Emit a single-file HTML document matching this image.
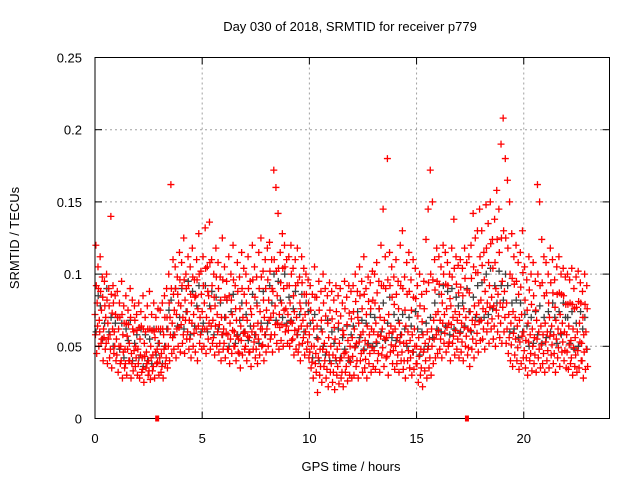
<!DOCTYPE html>
<html><head><meta charset="utf-8"><style>
html,body{margin:0;padding:0;background:#fff;}
svg{display:block;font-family:"Liberation Sans",sans-serif;}
</style></head><body>
<svg id="chart" width="640" height="480" viewBox="0 0 640 480">
<rect x="0" y="0" width="640" height="480" fill="#fff"/>
<text x="350" y="31" font-size="13" text-anchor="middle" fill="#000">Day 030 of 2018, SRMTID for receiver p779</text>
<text x="351" y="471" font-size="13" text-anchor="middle" fill="#000">GPS time / hours</text>
<text transform="translate(19,238) rotate(-90)" font-size="13" text-anchor="middle" fill="#000">SRMTID / TECUs</text>
<g id="grid"></g>
<g id="black"></g>
<g id="red"></g>
<g id="axes"></g>
</svg>
<script>
const xTicks=[0,5,10,15,20];
const yTicks=[0,0.05,0.1,0.15,0.2,0.25];
const yTickLabels=["0","0.05","0.1","0.15","0.2","0.25"];
const markerTimes=[2.9,17.35];
const redMid=[72,80,68,75,62,70,66,58,73,60,55,62,50,58,48,57,52,45,60,50,48,55,42,52,46,40,50,44,56,48,52,45,58,50,62,70,66,75,72,80,78,70,82,74,68,80,72,85,76,70,74,80,70,85,76,68,78,72,65,70,62,70,58,66,72,60,68,55,64,70,60,68,56,72,64,58,66,74,62,70,75,82,70,88,78,85,72,80,90,76,72,80,66,74,70,62,76,68,72,64,58,50,62,45,55,48,60,52,46,56,50,44,55,48,52,42,58,46,54,50,56,62,52,66,58,60,54,64,58,62,60,66,58,70,62,68,56,72,64,60,62,56,66,58,52,64,60,54,58,62,50,56,48,58,52,60,55,62,68,72,74,68,80,72,76,66,78,70,74,68,72,66,76,70,62,74,68,78,72,80,82,76,88,80,92,84,78,90,86,80,95,88,80,72,66,74,70,64,68,72,60,54,66,58,62,56,68,60,64,58,66,60,70,64,58,68,62,72,66,60,58,64,54,62,56,60,66,52,58,60];
const redHi=[120,105,112,98,95,100,90,140,92,85,88,80,95,78,85,75,90,82,78,72,80,74,85,70,78,88,72,80,70,76,75,80,85,90,100,162,110,105,98,115,108,125,100,112,105,118,96,110,128,102,112,132,105,136,110,100,118,108,98,125,105,95,112,100,120,92,108,98,115,104,100,112,95,120,105,98,115,125,102,110,118,122,110,172,160,142,115,128,120,110,112,120,104,110,118,98,112,104,100,96,92,86,105,84,95,88,100,90,85,94,88,82,92,85,90,80,95,84,92,88,92,100,88,105,95,112,90,98,94,102,100,108,95,120,145,112,180,115,105,98,110,95,120,130,98,108,115,96,110,104,92,100,86,95,124,145,172,150,110,118,112,105,120,115,108,100,118,138,112,106,110,104,118,108,112,120,142,125,130,145,130,115,148,135,150,124,138,158,145,190,208,180,165,150,128,112,120,108,115,130,105,96,112,100,108,95,162,150,124,112,108,100,118,110,96,105,112,100,104,98,100,96,104,90,98,102,94,88,100,92];
const redLo=[45,50,52,40,48,38,42,35,45,40,32,38,28,35,30,40,28,33,36,30,28,32,25,35,30,27,33,28,38,30,32,28,38,35,40,45,48,42,50,46,52,45,55,48,42,50,46,40,52,48,50,45,55,48,52,44,50,46,40,48,42,48,38,45,50,40,46,35,44,48,40,46,36,48,42,38,44,50,40,46,50,55,46,58,52,48,54,50,60,52,50,54,44,48,46,40,52,44,48,42,35,28,38,18,30,25,36,28,22,32,25,20,30,24,28,22,32,26,30,28,30,36,28,40,32,35,28,38,32,36,34,40,32,44,36,42,30,46,38,34,38,32,40,34,28,40,35,30,34,38,25,30,22,33,28,35,30,38,42,45,48,42,52,46,50,40,52,44,48,42,46,40,50,44,36,48,42,52,46,54,55,48,60,52,62,55,50,60,56,52,60,52,45,40,36,44,40,34,38,42,35,30,40,33,38,32,42,35,38,32,40,35,44,38,32,42,36,46,40,35,34,38,30,36,32,35,40,28,34,36];
const redQ1=[58,64,60,55,56,52,55,48,62,50,44,50,40,46,38,48,40,38,47,42,38,44,34,43,38,33,42,36,46,39,42,36,48,42,50,58,56,58,62,63,65,58,68,60,55,66,59,62,64,58,62,62,62,66,64,56,64,60,52,58,52,59,48,55,61,50,57,45,54,59,50,57,46,60,53,48,55,62,51,58,62,68,58,73,65,66,63,65,75,64,61,67,55,61,58,51,64,56,60,53,46,39,50,32,42,36,48,40,34,44,38,32,42,36,40,32,45,36,42,39,43,49,40,53,45,47,41,51,45,49,47,53,45,57,49,55,43,59,51,47,50,44,53,46,40,52,47,42,46,50,38,43,35,46,40,48,42,50,55,58,61,55,66,59,63,53,65,57,61,55,59,53,63,57,49,61,55,65,59,67,68,62,74,66,77,69,64,75,71,66,77,70,62,56,51,59,55,49,53,57,47,42,53,45,50,44,55,48,51,45,53,47,57,51,45,55,49,59,53,47,46,51,42,49,44,47,53,40,46,48];
const redQ3=[92,90,88,84,78,82,78,86,80,72,70,70,72,66,66,65,70,62,68,61,63,64,62,60,62,62,61,60,62,62,62,62,70,70,80,90,86,90,86,96,92,96,90,92,86,98,84,96,100,86,92,104,88,108,92,84,98,90,82,96,84,82,85,82,96,76,88,76,90,86,80,90,76,96,84,78,90,98,82,90,96,102,90,110,102,104,94,104,105,92,92,100,85,92,94,80,94,86,86,80,75,68,84,64,75,68,80,71,66,75,69,63,74,66,71,61,76,65,73,69,74,81,70,85,76,86,72,81,76,82,80,87,76,92,92,90,96,92,84,79,86,76,92,90,75,86,88,75,84,83,71,78,67,76,88,94,100,96,89,95,93,86,100,93,92,83,98,104,93,87,91,85,97,89,87,97,105,101,101,112,106,96,118,108,121,104,108,124,115,125,130,125,118,100,97,93,95,86,91,101,82,75,89,79,85,75,100,92,94,85,87,80,94,87,77,86,87,86,85,79,79,80,79,76,77,81,80,70,79,76];
const blackVals=[60,85,78,55,66,90,60,70,50,66,70,48,66,42,62,54,68,40,52,58,42,62,36,58,40,55,38,62,44,52,60,38,50,62,75,82,58,90,64,70,90,62,74,95,58,88,64,78,92,60,66,92,60,78,88,58,84,62,80,58,70,82,50,74,86,52,58,68,80,60,72,54,64,86,58,80,52,66,88,58,66,92,80,100,68,95,82,70,100,66,84,68,76,88,58,72,86,60,80,74,66,42,72,56,40,62,50,44,68,40,60,52,40,62,42,56,48,64,40,58,64,50,74,56,68,48,66,52,72,50,70,52,76,60,80,54,66,84,56,72,54,68,58,72,62,50,70,64,46,74,62,44,60,48,66,50,70,56,80,62,86,60,92,64,88,58,90,62,84,78,60,80,64,90,74,60,84,70,92,68,94,70,100,72,104,76,92,80,102,92,82,100,92,60,80,62,82,56,80,60,72,64,50,70,52,74,58,78,52,70,56,74,60,80,70,52,74,58,80,70,70,52,74,48,66,50,74,62,70,48];
const timeStep=0.1;

const NS="http://www.w3.org/2000/svg";
const L=95,R=609.5,T=57.5,B=418.5;
const xScale=h=>L+(h/24)*(R-L);
const yScale=v=>B-(v/0.25)*(B-T);
function mk(tag,attrs,parent){const e=document.createElementNS(NS,tag);for(const k in attrs)e.setAttribute(k,attrs[k]);parent.appendChild(e);return e;}
const grid=document.getElementById('grid'),axes=document.getElementById('axes');
xTicks.forEach(t=>{
  const x=xScale(t);
  if(t>0){const g=mk('line',{x1:x,y1:T,x2:x,y2:B,stroke:'#a0a0a0','stroke-dasharray':'2,3','stroke-width':1},grid);
  
  }
  mk('line',{x1:x,y1:B,x2:x,y2:B-7,stroke:'#000'},axes);
  mk('line',{x1:x,y1:T,x2:x,y2:T+7,stroke:'#000'},axes);
  const lb=mk('text',{x:x,y:443,'font-size':13,'text-anchor':'middle'},axes);lb.textContent=t;
  
  
});
yTicks.forEach((v,i)=>{
  const y=yScale(v);
  if(v>0&&v<0.25){const g=mk('line',{x1:L,y1:y,x2:R,y2:y,stroke:'#a0a0a0','stroke-dasharray':'2,3','stroke-width':1},grid);
  
  }
  mk('line',{x1:L,y1:y,x2:L+7,y2:y,stroke:'#000'},axes);
  mk('line',{x1:R,y1:y,x2:R-7,y2:y,stroke:'#000'},axes);
  const lb=mk('text',{x:82,y:y+5,'font-size':13,'text-anchor':'end'},axes);lb.textContent=yTickLabels[i];
  
  
});
const fr=mk('rect',{x:L,y:T,width:R-L,height:B-T,fill:'none',stroke:'#000','stroke-width':1},axes);


markerTimes.forEach(t=>{
  const m=mk('rect',{x:xScale(t)-2,y:B-3,width:4,height:6,fill:'#f00'},axes);
  
  
});
function plus(g,t,v,col){
  const x=xScale(t),y=yScale(v/1000);
  const p=mk('path',{d:`M${x-3.5},${y}H${x+3.5}M${x},${y-3.5}V${y+3.5}`,stroke:col,'stroke-width':1.3,fill:'none'},g);
  
  
}
const bg=document.getElementById('black'),rg=document.getElementById('red');
blackVals.forEach((v,i)=>plus(bg,i*timeStep+0.05,v,'#404040'));
const redSeries=[redMid,redHi,redLo,redQ1,redQ3];
const redOffsets=[0,0.04,0.08,0.02,0.06];
redSeries.forEach((arr,k)=>arr.forEach((v,i)=>plus(rg,i*timeStep+redOffsets[k],v,'#f00')));
</script>
</body></html>
